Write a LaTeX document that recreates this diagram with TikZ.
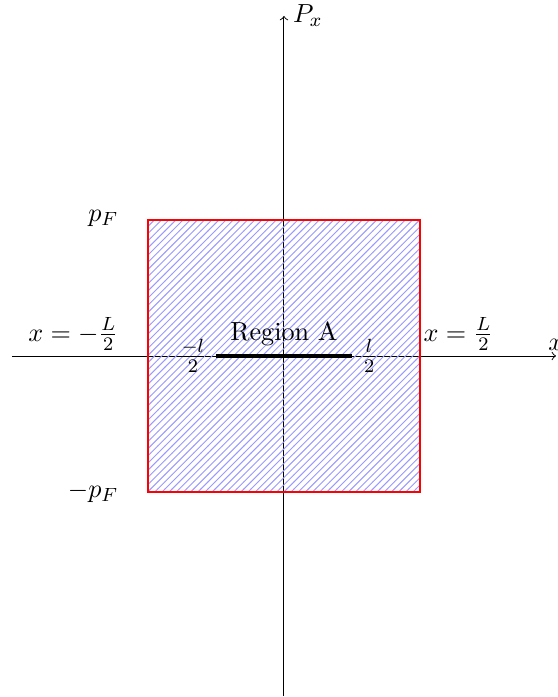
\documentclass[tikz,border=0pt,11pt]{standalone}
\usetikzlibrary{patterns}
\begin{document}
\begin{tikzpicture}[
  axis/.style={->, black},
  region/.style={draw=red, thick, pattern=north east lines, pattern color=blue!40},
  seg/.style={line width=1.4pt, black}
]
\useasboundingbox (-4.176,-5.015) rectangle (4.029,5.235);
% axes
\coordinate (xl) at (-4,0);
\coordinate (xr) at (4,0);
\coordinate (yb) at (0,-5);
\coordinate (yt) at (0,5);
\draw[axis] (xl) -- (xr) node[above, yshift=-1.5pt] (xlab) {$x$};
\draw[axis] (yb) -- (yt) node[right] (ylab) {$P_x$};
% region
\coordinate (bl) at (-2,-2);
\coordinate (tr) at (2,2);
\draw[region] (bl) rectangle (tr);
% segment
\coordinate (sa) at (-1,0);
\coordinate (sb) at (1,0);
\draw[seg] (sa) -- node[above] (reg) {Region A} (sb);
\node[left] (ml) at (sa) {$\frac{-l}{2}$};
\node[right] (pl) at (sb) {$\frac{l}{2}$};
% labels
\node[above] (lL) at (-3.1,-0.05) {$x=-\frac{L}{2}$};
\node[above right] (rL) at (1.92,-0.05) {$x=\frac{L}{2}$};
\node[left] (pf) at (-2.3,2.03) {$p_F$};
\node[left] (mpf) at (-2.3,-2.01) {$-p_F$};
\end{tikzpicture}
\end{document}
